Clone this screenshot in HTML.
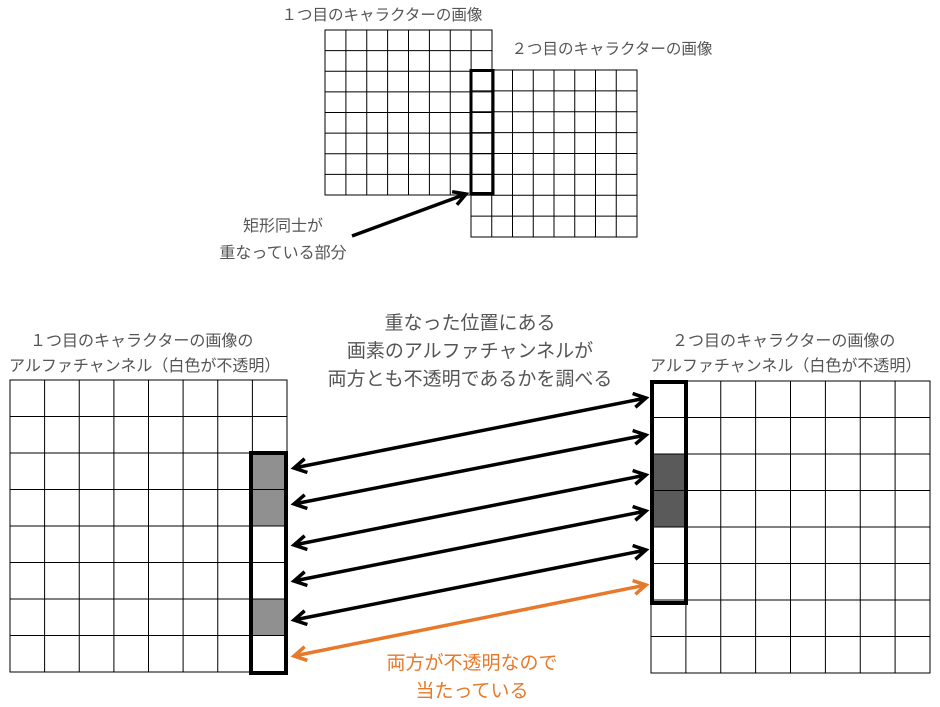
<!DOCTYPE html>
<html><head><meta charset="utf-8"><style>
html,body{margin:0;padding:0;background:#fff;}
svg{display:block;}
text{font-family:"Liberation Sans","Noto Sans CJK JP",sans-serif;fill:#555;}
</style></head><body>
<svg width="940" height="707" viewBox="0 0 940 707" xmlns="http://www.w3.org/2000/svg">
<defs>
<marker id="ab" viewBox="0 0 10 10" refX="8" refY="5" markerWidth="5" markerHeight="5" orient="auto-start-reverse" markerUnits="strokeWidth">
<path d="M1,1 L8,5 L1,9" fill="none" stroke="#000" stroke-width="2"/></marker>
<marker id="ao" viewBox="0 0 10 10" refX="8" refY="5" markerWidth="5" markerHeight="5" orient="auto-start-reverse" markerUnits="strokeWidth">
<path d="M1,1 L8,5 L1,9" fill="none" stroke="#e8792a" stroke-width="2"/></marker>
</defs>

<!-- top right grid -->
<g stroke="#000" stroke-width="1" fill="none">
<rect x="471" y="70" width="166" height="167" fill="#fff"/>
<path d="M491.75,70V237M512.5,70V237M533.25,70V237M554,70V237M574.75,70V237M595.5,70V237M616.25,70V237
M471,90.9H637M471,111.75H637M471,132.6H637M471,153.5H637M471,174.4H637M471,195.25H637M471,216.1H637"/>
<!-- top left grid -->
<rect x="325" y="30" width="167" height="165"/>
<path d="M345.9,30V195M366.75,30V195M387.6,30V195M408.5,30V195M429.4,30V195M450.25,30V195M471.1,30V195
M325,50.6H492M325,71.25H492M325,91.9H492M325,112.5H492M325,133.1H492M325,153.75H492M325,174.4H492"/>
</g>
<rect x="471" y="70.5" width="22" height="123" fill="none" stroke="#000" stroke-width="3"/>
<line x1="352" y1="236" x2="466" y2="194" stroke="#000" stroke-width="3.5" marker-end="url(#ab)"/>

<text x="382" y="20" font-size="15.5" text-anchor="middle">１つ目のキャラクターの画像</text>
<text x="612" y="54" font-size="15.5" text-anchor="middle">２つ目のキャラクターの画像</text>
<text x="283" y="231" font-size="16" text-anchor="middle">矩形同士が</text>
<text x="283" y="258" font-size="16" text-anchor="middle">重なっている部分</text>

<!-- bottom left -->
<rect x="252" y="453" width="35" height="36.5" fill="#909090"/>
<rect x="252" y="489.5" width="35" height="36.5" fill="#909090"/>
<rect x="252" y="599" width="35" height="36.5" fill="#909090"/>
<g stroke="#000" stroke-width="1" fill="none">
<rect x="10" y="380" width="277" height="292"/>
<path d="M44.6,380V672M79.25,380V672M113.9,380V672M148.5,380V672M183.1,380V672M217.75,380V672M252.4,380V672
M10,416.5H287M10,453H287M10,489.5H287M10,526H287M10,562.5H287M10,599H287M10,635.5H287"/>
</g>
<rect x="251" y="453" width="35" height="220" fill="none" stroke="#000" stroke-width="4"/>

<!-- bottom right -->
<rect x="652" y="454" width="34" height="73" fill="#5a5a5a"/>
<g stroke="#000" stroke-width="1" fill="none">
<rect x="651" y="381" width="279" height="292"/>
<path d="M685.9,381V673M720.75,381V673M755.6,381V673M790.5,381V673M825.4,381V673M860.25,381V673M895.1,381V673
M651,417.5H930M651,454H930M651,490.5H930M651,527H930M651,563.5H930M651,600H930M651,636.5H930"/>
</g>
<rect x="652" y="382" width="34" height="221" fill="none" stroke="#000" stroke-width="4"/>

<!-- arrows -->
<g stroke="#000" stroke-width="3.5" marker-start="url(#ab)" marker-end="url(#ab)">
<line x1="294" y1="468" x2="646" y2="398"/>
<line x1="294" y1="504" x2="646" y2="435"/>
<line x1="294" y1="545" x2="646" y2="475"/>
<line x1="294" y1="581" x2="646" y2="511"/>
<line x1="294" y1="620" x2="646" y2="550"/>
</g>
<line x1="294" y1="656" x2="646" y2="585" stroke="#e8792a" stroke-width="3.5" marker-start="url(#ao)" marker-end="url(#ao)"/>

<text x="30" y="346" font-size="16">１つ目のキャラクターの画像の</text>
<text x="9" y="371" font-size="16">アルファチャンネル（白色が不透明）</text>
<text x="672" y="346" font-size="16">２つ目のキャラクターの画像の</text>
<text x="650" y="371" font-size="16">アルファチャンネル（白色が不透明）</text>

<text x="470" y="329" font-size="19" text-anchor="middle">重なった位置にある</text>
<text x="470" y="357" font-size="19" text-anchor="middle">画素のアルファチャンネルが</text>
<text x="470" y="385" font-size="19" text-anchor="middle">両方とも不透明であるかを調べる</text>

<text x="472" y="669" font-size="19" text-anchor="middle" style="fill:#e8792a">両方が不透明なので</text>
<text x="472" y="697" font-size="19" text-anchor="middle" style="fill:#e8792a">当たっている</text>
</svg>
</body></html>
